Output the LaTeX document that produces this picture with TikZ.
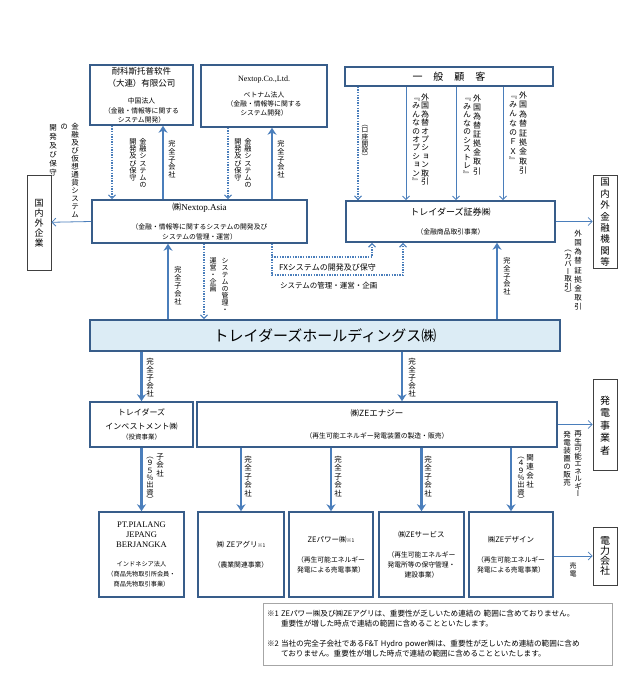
\documentclass[tikz,border=0pt]{standalone}
\usepackage{fontspec}
\setmainfont{Liberation Serif}
\newfontfamily\jp{Noto Sans CJK JP}
\newfontfamily\jpv[RawFeature=+vert]{Noto Sans CJK JP}
\usetikzlibrary{arrows.meta}
\definecolor{boxblue}{RGB}{56,93,138}
\definecolor{arrblue}{RGB}{74,126,187}
\definecolor{holdfill}{RGB}{220,236,245}
\newcommand\sz[2]{\fontsize{#1}{#2}\selectfont}
\newdimen\vspitch
\newcommand\vsend{}
\def\vsloop#1{\ifx#1\vsend\else\hbox to 1em{\hss\vrule height .88\vspitch depth .12\vspitch width 0pt\relax #1\hss}\expandafter\vsloop\fi}
\newcommand\vt[2][1em]{\vbox{\offinterlineskip\vspitch=#1\relax\vsloop#2\vsend}}

\begin{document}
\begin{tikzpicture}[
		x=1pt,y=-1pt,
		corp/.style={draw=boxblue,line width=1.6pt,align=center,inner sep=1pt,font=\jp\sz{6.8}{9.5}},
		outer/.style={draw=black!75,line width=0.7pt,inner sep=0pt,minimum width=24pt,font=\jpv\sz{9.5}{11}},
		vlab/.style={anchor=north,inner sep=0pt,font=\jpv\sz{7.2}{10}},
		sub/.style={draw=arrblue,line width=2.2pt,-{Stealth[length=7pt,width=9pt]}},
		flow/.style={draw=arrblue,line width=1pt,-{Straight Barb[length=3.5pt,width=7pt]}},
		dev/.style={draw=arrblue,line width=1.2pt,dash pattern=on 1.4pt off 1.2pt,-{Straight Barb[length=3.5pt,width=7pt]}},
		ext/.style={draw=arrblue,line width=0.8pt,-{Straight Barb[length=4pt,width=8pt]}}
		]
		\useasboundingbox (0,0) rectangle (644,694);
		\node[corp,minimum width=103,minimum height=60,text width=101] (taiko) at (141.5,95)
		{\sz{8.5}{9.5}耐科斯托普软件\\[2.5pt]\sz{8.5}{9.5}（大連）有限公司\\[8pt]\sz{6.8}{9.5}中国法人\\（金融・情報等に関する\\システム開発）};
		\node[corp,minimum width=126,minimum height=62,text width=124] (nexco) at (264,96)
		{\rmfamily\sz{8}{8.5}Nextop.Co.,Ltd.\\[8pt]\jp\sz{6.8}{8.5}ベトナム法人\\（金融・情報等に関する\\システム開発）};
		\node[corp,minimum width=208,minimum height=19,text width=206] (kokyaku) at (449,76.5)
		{\sz{10}{12}一\hspace{11pt}般\hspace{11pt}顧\hspace{11pt}客};
		\node[corp,minimum width=215,minimum height=43,text width=213] (asia) at (199.5,221.5)
		{\sz{9}{10}㈱\rmfamily Nextop.Asia\\[9pt]\jp\sz{6.8}{10}（金融・情報等に関するシステムの開発及び\\システムの管理・運営）};
		\node[corp,minimum width=209,minimum height=41,text width=207] (shoken) at (450.5,221.5)
		{\sz{9}{10}トレイダーズ証券㈱\\[10pt]\sz{6.8}{10}（金融商品取引事業）};
		\node[corp,fill=holdfill,minimum width=470,minimum height=31,text width=468] (hold) at (325,335.5)
		{\sz{15}{18}トレイダーズホールディングス㈱};
		\node[corp,minimum width=103,minimum height=45,text width=101] (invest) at (141.5,424.5)
		{\sz{8}{11}トレイダーズ\\[3pt]\sz{8}{11}インベストメント㈱\\\sz{6.5}{11}（投資事業）};
		\node[corp,minimum width=360,minimum height=45,text width=358] (energy) at (377,424.5)
		{\sz{8.5}{10}㈱ZEエナジー\\[12pt]\sz{6.8}{10}（再生可能エネルギー発電装置の製造・販売）};
		\node[corp,minimum width=85,minimum height=85,text width=83] (pt) at (141.5,554.5)
		{\rmfamily\sz{8.5}{10}PT.PIALANG\\JEPANG\\BERJANGKA\\[9pt]\jp\sz{6.2}{10}インドネシア法人\\（商品先物取引所会員・\\商品先物取引事業）};
		\node[corp,minimum width=86,minimum height=85,text width=84] (agri) at (241,554.5)
		{\sz{7.5}{10}㈱ ZEアグリ{\sz{5}{10}※1}\\[10pt]\sz{6.8}{10}（農業関連事業）};
		\node[corp,minimum width=84,minimum height=85,text width=82] (power) at (331,554.5)
		{\sz{7.5}{10}ZEパワー㈱{\sz{5}{10}※1}\\[10pt]\sz{6.8}{10}（再生可能エネルギー\\発電による売電事業）};
		\node[corp,minimum width=85,minimum height=85,text width=83] (service) at (421.5,554.5)
		{\sz{7.5}{10}㈱ZEサービス\\[10pt]\sz{6.8}{10}（再生可能エネルギー\\発電所等の保守管理・\\建設事業）};
		\node[corp,minimum width=84,minimum height=85,text width=82] (design) at (511,554.5)
		{\sz{7.5}{10}㈱ZEデザイン\\[10pt]\sz{6.8}{10}（再生可能エネルギー\\発電による売電事業）};
		\node[outer,minimum height=95] (kigyo) at (39,222.5) {\sz{9}{11}\vt[10pt]{国内外企業}};
		\node[outer,minimum height=93] (kinyu) at (605,221.5) {\vt[11.4pt]{国内外金融機関等}};
		\node[outer,minimum height=91] (hatsuden) at (605,424.5) {\sz{10}{11}\vt[12.6pt]{発電事業者}};
		\node[outer,minimum height=58] (denryoku) at (605,556) {\sz{10}{11}\vt[10pt]{電力会社}};
		\node[draw=black!35,line width=0.7pt,minimum width=349,minimum height=62,text width=341,inner sep=4pt,align=left,font=\jp\sz{7.6}{10}] (note) at (437.5,634)
		{\makebox[14pt][l]{※1}ZEパワー㈱及び㈱ZEアグリは、重要性が乏しいため連結の 範囲に含めておりません。\\\hspace*{14pt}重要性が増した時点で連結の範囲に含めることといたします。\\[10pt]\makebox[14pt][l]{※2}当社の完全子会社であるF\&T Hydro power㈱は、重要性が乏しいため連結の範囲に含め\\\hspace*{14pt}ておりません。重要性が増した時点で連結の範囲に含めることといたします。};
		\coordinate (lt1) at (112,0);
		\coordinate (lt2) at (163,0);
		\coordinate (ln1) at (228,0);
		\coordinate (ln2) at (272,0);
		\coordinate (lk1) at (358,0);
		\coordinate (lk2) at (406,0);
		\coordinate (lk3) at (456,0);
		\coordinate (lk4) at (503,0);
		\coordinate (la1) at (168,0);
		\coordinate (la2) at (204,0);
		\coordinate (lf) at (272,0);
		\coordinate (lf1) at (372,257);
		\coordinate (lf2) at (403,275);
		\coordinate (ls) at (497,0);
		\coordinate (le) at (402,0);
		\path
		(taiko.south -| lt1) edge[dev] (asia.north -| lt1)
		(asia.north -| lt2) edge[sub] (taiko.south -| lt2)
		(nexco.south -| ln1) edge[dev] (asia.north -| ln1)
		(asia.north -| ln2) edge[sub] (nexco.south -| ln2)
		(kokyaku.south -| lk1) edge[dev] (shoken.north -| lk1)
		(kokyaku.south -| lk2) edge[flow] (shoken.north -| lk2)
		(kokyaku.south -| lk3) edge[flow] (shoken.north -| lk3)
		(kokyaku.south -| lk4) edge[flow] (shoken.north -| lk4)
		(hold.north -| la1) edge[sub] (asia.south -| la1)
		(asia.south -| la2) edge[dev] (hold.north -| la2)
		(hold.north -| ls) edge[sub] (shoken.south -| ls)
		(hold.south -| invest) edge[sub] (invest)
		(hold.south -| le) edge[sub] (energy.north -| le)
		(invest) edge[sub] (pt)
		(energy.south -| agri) edge[sub] (agri)
		(energy.south -| power) edge[sub] (power)
		(energy.south -| service) edge[sub] (service)
		(energy.south -| design) edge[sub] (design)
		(asia.west) edge[ext] (kigyo)
		(shoken.east) edge[ext] (kinyu)
		(energy.east) edge[ext] (hatsuden)
		(design.east |- denryoku) edge[ext] (denryoku);
		\draw[dev] (asia.south -| lf) |- (lf1) -- (shoken.south -| lf1);
		\draw[dev] (asia.south -| lf) |- (lf2) -- (shoken.south -| lf2);
		\node[anchor=west,inner sep=0pt,font=\jp\sz{8}{10}] (fxdev) at (279,267) {FXシステムの開発及び保守};
		\node[anchor=west,inner sep=0pt,font=\jp\sz{7.5}{10}] (fxops) at (280,286) {システムの管理・運営・企画};
		\node[vlab] (lbt1a) at (143,138) {\vt{金融システムの}};
		\node[vlab] (lbt1b) at (133,138) {\vt{開発及び保守}};
		\node[vlab] (lbt2) at (172,140) {\vt[7.6pt]{完全子会社}};
		\node[vlab] (lbn1a) at (248,138) {\vt{金融システムの}};
		\node[vlab] (lbn1b) at (238,138) {\vt{開発及び保守}};
		\node[vlab] (lbn2) at (281,140) {\vt[7.6pt]{完全子会社}};
		\node[vlab,font=\jpv\sz{6.7}{10}] (lbk1) at (365,120) {\vt{（口座開設）}};
		\node[vlab,font=\jpv\sz{8}{10}] (lbk2a) at (425,93) {\vt[8.4pt]{外国為替オプション取引}};
		\node[vlab,font=\jpv\sz{8}{10}] (lbk2b) at (416,93) {\vt[8.4pt]{『みんなのオプション』}};
		\node[vlab,font=\jpv\sz{8}{10}] (lbk3a) at (477,93) {\vt[9.1pt]{外国為替証拠金取引}};
		\node[vlab,font=\jpv\sz{8}{10}] (lbk3b) at (467,93) {\vt[8.5pt]{『みんなのシストレ』}};
		\node[vlab,font=\jpv\sz{8}{10}] (lbk4a) at (523,90) {\vt[9.4pt]{外国為替証拠金取引}};
		\node[vlab,font=\jpv\sz{8}{10}] (lbk4b) at (513,90) {\vt[9.3pt]{『みんなのＦＸ』}};
		\node[vlab,font=\jpv\sz{7.5}{10}] (lbga) at (75,122) {\vt[8pt]{金融及び仮想通貨システム}};
		\node[vlab,font=\jpv\sz{7.5}{10}] (lbgb) at (64,122) {\vt[8pt]{の}};
		\node[vlab,font=\jpv\sz{7.5}{10}] (lbgc) at (53,122) {\vt[9pt]{開発及び保守}};
		\node[vlab] (lba1) at (178,265) {\vt[8pt]{完全子会社}};
		\node[vlab,font=\jpv\sz{7}{10}] (lba2a) at (225,257) {\vt{システムの管理・}};
		\node[vlab,font=\jpv\sz{7}{10}] (lba2b) at (213,257) {\vt{運営・企画}};
		\node[vlab] (lbs) at (507,257) {\vt[7.6pt]{完全子会社}};
		\node[vlab,font=\jpv\sz{7.5}{10}] (lbca) at (578,228) {\vt[9.2pt]{外国為替証拠金取引}};
		\node[vlab,font=\jpv\sz{7.5}{10}] (lbcb) at (568,245) {\vt[7.5pt]{（カバー取引）}};
		\node[vlab,font=\jpv\sz{7.5}{10}] (lbh1) at (150,357) {\vt[8pt]{完全子会社}};
		\node[vlab,font=\jpv\sz{7.5}{10}] (lbh2) at (412,357) {\vt[8pt]{完全子会社}};
		\node[vlab,font=\jpv\sz{7.5}{10}] (lbea) at (578,430) {\vt[7.5pt]{再生可能エネルギー}};
		\node[vlab,font=\jpv\sz{7.5}{10}] (lbeb) at (567,430) {\vt[8pt]{発電装置の販売}};
		\node[vlab,font=\jpv\sz{7.5}{10}] (lbia) at (160,452) {\vt[8.3pt]{子会社}};
		\node[vlab,font=\jpv\sz{7.3}{10}] (lbib) at (150,452) {\vt[7.3pt]{（９５％出資）}};
		\node[vlab,font=\jpv\sz{7.5}{10}] (lbag) at (248,455) {\vt[8.4pt]{完全子会社}};
		\node[vlab,font=\jpv\sz{7.5}{10}] (lbpw) at (338,455) {\vt[8.4pt]{完全子会社}};
		\node[vlab,font=\jpv\sz{7.5}{10}] (lbsv) at (428,455) {\vt[8.4pt]{完全子会社}};
		\node[vlab,font=\jpv\sz{7.5}{10}] (lbdsa) at (530,452) {\vt[9pt]{関連会社}};
		\node[vlab,font=\jpv\sz{7.3}{10}] (lbdsb) at (521,452) {\vt[7.3pt]{（４９％出資）}};
		\node[vlab,font=\jpv\sz{7}{10}] (lbdr) at (573,562) {\vt[7.5pt]{売電}};
	\end{tikzpicture}
\end{document}
